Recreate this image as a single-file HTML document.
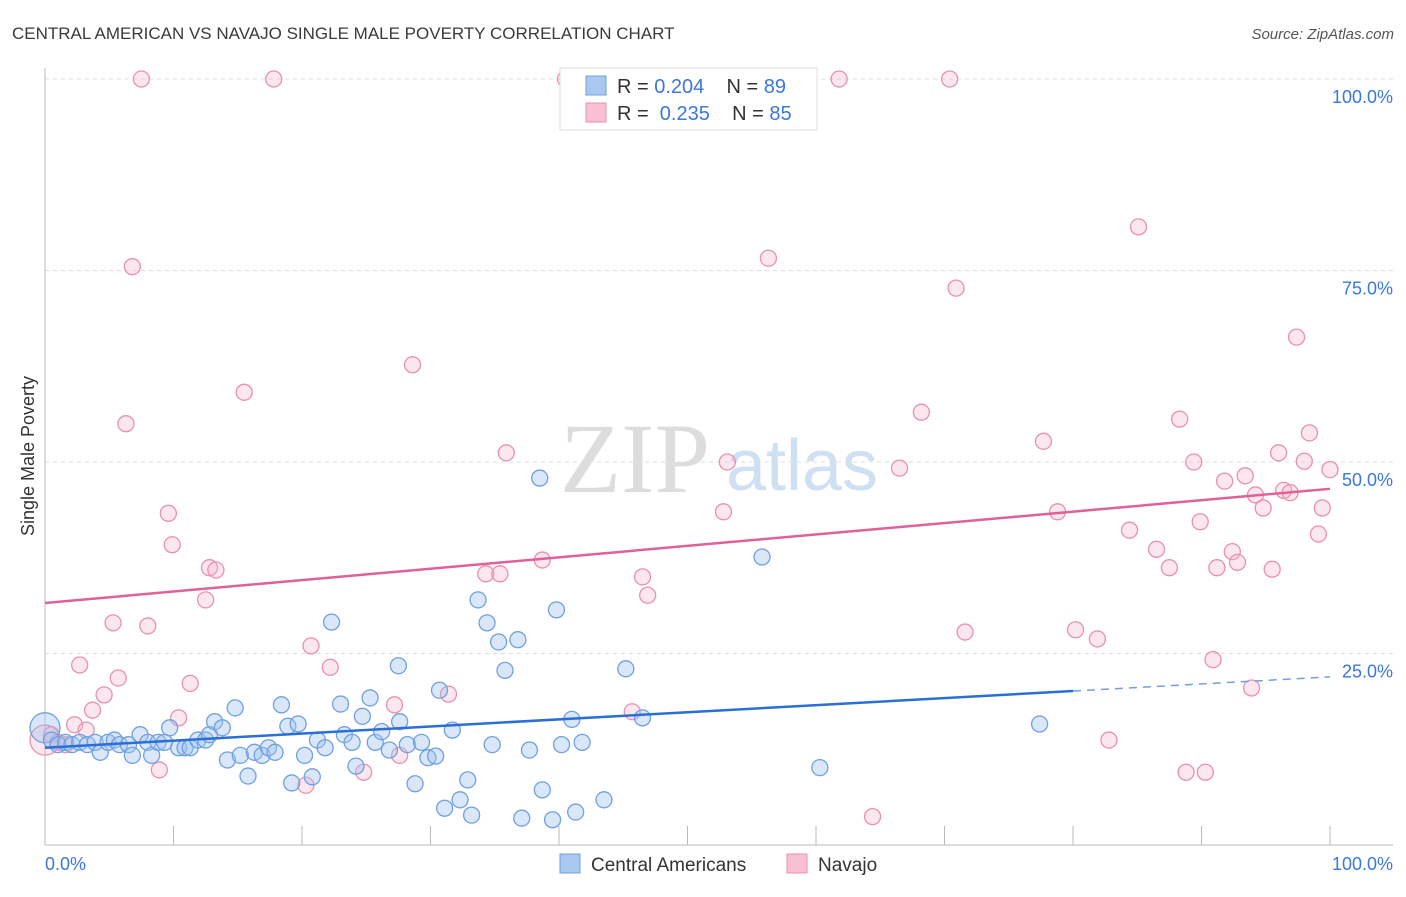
<!DOCTYPE html>
<html><head><meta charset="utf-8"><style>
body{margin:0;background:#fff;font-family:"Liberation Sans",sans-serif;}
svg text{font-family:"Liberation Sans",sans-serif;}
</style></head><body>
<svg id="chart" width="1406" height="892">
<text x="12" y="39" font-size="17" fill="#3a3a3a">CENTRAL AMERICAN VS NAVAJO SINGLE MALE POVERTY CORRELATION CHART</text>
<text x="1394" y="39" font-size="15" fill="#555" text-anchor="end" font-style="italic">Source: ZipAtlas.com</text>
<text x="635" y="492" font-size="100" fill="#ddd" text-anchor="middle" style="font-family:'Liberation Serif',serif">ZIP</text>
<text x="802" y="490" font-size="72" fill="#cfe0f3" text-anchor="middle">atlas</text>
<text x="34" y="456" font-size="18" fill="#333" text-anchor="middle" transform="rotate(-90 34 456)">Single Male Poverty</text>
<g id="grid"></g><g id="pts"></g><g id="lines"></g>
<g>
<rect x="560" y="68" width="257" height="62" fill="#fff" stroke="#ddd"/>
<rect x="586" y="76" width="20" height="19" fill="#a8c8f0" stroke="#6fa0e0"/>
<rect x="586" y="103" width="20" height="19" fill="#f8c0d2" stroke="#e890ae"/>
<text x="617" y="93" font-size="20" fill="#333">R = <tspan fill="#3b78d8">0.204</tspan>&#160;&#160;&#160;&#160;N = <tspan fill="#3b78d8">89</tspan></text>
<text x="617" y="120" font-size="20" fill="#333">R = &#160;<tspan fill="#3b78d8">0.235</tspan>&#160;&#160;&#160;&#160;N = <tspan fill="#3b78d8">85</tspan></text>
</g>
<g>
<rect x="560" y="854" width="20" height="19" fill="#a8c8f0" stroke="#6fa0e0"/>
<text x="591" y="871" font-size="19" fill="#333">Central Americans</text>
<rect x="787" y="854" width="20" height="19" fill="#f8c0d2" stroke="#e890ae"/>
<text x="818" y="871" font-size="19" fill="#333">Navajo</text>
</g>
<text x="45" y="870" font-size="18" fill="#3b78d8">0.0%</text>
<text x="1393" y="870" font-size="18" fill="#3b78d8" text-anchor="end">100.0%</text>
</svg>
<script>
const yTicks=[25,50,75,100];
const yTickLabels=["25.0%","50.0%","75.0%","100.0%"];
const xTicks=[0,10,20,30,40,50,60,70,80,90,100];
const blueX=[0,0.5,1.0,1.6,2.1,2.7,3.3,3.9,4.3,4.9,5.4,5.8,6.5,6.8,7.4,8.0,8.3,8.8,9.3,9.7,10.4,10.9,11.3,11.9,12.5,12.8,13.2,13.8,14.2,14.8,15.2,15.8,16.3,16.9,17.4,17.9,18.4,18.9,19.2,19.7,20.2,20.8,21.2,21.8,22.3,23.0,23.3,23.9,24.2,24.7,25.3,25.7,26.2,26.8,27.5,27.6,28.2,28.8,29.3,29.8,30.4,30.7,31.1,31.7,32.3,32.9,33.2,33.7,34.4,34.8,35.3,35.8,36.8,37.1,37.7,38.5,38.7,39.5,39.8,40.2,41.0,41.3,41.8,43.5,45.2,46.5,55.8,60.3,77.4];
const blueY=[15.3,13.7,13.1,13.4,13.1,13.4,13.1,13.4,12.1,13.4,13.7,13.1,13.1,11.7,14.4,13.4,11.7,13.4,13.4,15.3,12.7,12.7,12.7,13.7,13.7,14.4,16.1,15.3,11.1,17.9,11.7,9.0,12.1,11.7,12.7,12.1,18.3,15.5,8.1,15.8,11.7,8.9,13.7,12.7,29.1,18.4,14.4,13.4,10.3,16.8,19.2,13.4,14.8,12.4,23.4,16.1,13.1,8.0,13.4,11.4,11.6,20.2,4.8,15.0,5.9,8.5,3.9,32.0,29.0,13.1,26.5,22.8,26.8,3.5,12.4,47.9,7.2,3.3,30.7,13.1,16.4,4.3,13.4,5.9,23.0,16.6,37.6,10.1,15.8];
const pinkX=[0,0.5,1.0,1.6,2.3,2.7,3.2,3.7,4.6,5.3,5.7,6.3,6.8,7.5,8.0,8.9,9.6,9.9,10.4,11.3,12.5,12.8,13.3,15.5,17.8,20.3,20.7,22.2,24.8,27.2,27.6,28.6,31.4,34.3,35.4,35.9,38.7,40.5,45.7,46.5,46.9,53.1,52.8,56.3,61.8,64.4,66.5,68.2,70.4,70.9,71.6,77.7,78.8,80.2,81.9,82.8,84.4,85.1,86.5,87.5,88.3,88.8,89.4,89.9,90.3,90.9,91.2,92.4,92.8,93.4,91.8,93.9,94.2,94.8,95.5,96.0,96.4,96.9,97.4,98.0,98.4,99.4,99.1,100];
const pinkY=[13.7,14.4,13.4,13.1,15.7,23.5,15.0,17.6,19.6,29.0,21.8,55.0,75.5,100,28.6,9.8,43.3,39.2,16.6,21.1,32.0,36.2,35.9,59.1,100,7.8,26.0,23.2,9.5,18.3,11.7,62.7,19.7,35.4,35.4,51.2,37.2,100,17.4,35.0,32.6,50.0,43.5,76.6,100,3.7,49.2,56.5,100,72.7,27.8,52.7,43.5,28.1,26.9,13.7,41.1,80.7,38.6,36.2,55.6,9.5,50.0,42.2,9.5,24.2,36.2,38.3,36.9,48.2,47.5,20.5,45.7,44.0,36.0,51.2,46.3,46.0,66.3,50.1,53.8,44.0,40.6,49.0];
const blueFit=[12.7,0.0925];
const pinkFit=[31.6,0.149];
const NS="http://www.w3.org/2000/svg";
const sx=v=>45+v*12.85, sy=v=>845-v*7.66;
function mk(tag,attrs,parent){const e=document.createElementNS(NS,tag);for(const k in attrs)e.setAttribute(k,attrs[k]);document.getElementById(parent).appendChild(e);return e;}
yTicks.forEach((t,i)=>{
 const l=mk('line',{x1:45,x2:1393,y1:sy(t),y2:sy(t),stroke:'#ddd','stroke-dasharray':'4,4'},'grid');
 
 
 const tx=mk('text',{x:1393,y:sy(t)+24,'font-size':18,fill:'#3b78d8','text-anchor':'end'},'grid');
 tx.textContent=yTickLabels[i];
 
 
});
const ax=mk('line',{x1:45,x2:45,y1:68,y2:845,stroke:'#bbb'},'grid');


const bx=mk('line',{x1:45,x2:1393,y1:845,y2:845,stroke:'#bbb'},'grid');


xTicks.forEach(t=>{
 const l=mk('line',{x1:sx(t),x2:sx(t),y1:826,y2:845,stroke:'#bbb'},'grid');
 
 
});
function pts(X,Y,fill,stroke,name){X.forEach((x,i)=>{
 const c=mk('circle',{cx:sx(x),cy:sy(Y[i]),r:i==0?15:8,fill:fill,stroke:stroke,'stroke-width':1.3},'pts');
 
 
});}
pts(pinkX,pinkY,'rgba(245,175,198,0.3)','#e890ae','navajo-point');
pts(blueX,blueY,'rgba(160,196,240,0.4)','#6fa0e0','central-american-point');
const f=(fit,x)=>fit[0]+fit[1]*x;
const bl=mk('line',{x1:sx(0),y1:sy(f(blueFit,0)),x2:sx(80),y2:sy(f(blueFit,80)),stroke:'#2a6fd6','stroke-width':2.5},'lines');


const bd=mk('line',{x1:sx(80),y1:sy(f(blueFit,80)),x2:sx(100),y2:sy(f(blueFit,100)),stroke:'#6fa0e0','stroke-width':1.5,'stroke-dasharray':'8,6'},'lines');


const pl=mk('line',{x1:sx(0),y1:sy(f(pinkFit,0)),x2:sx(100),y2:sy(f(pinkFit,100)),stroke:'#e0609a','stroke-width':2.5},'lines');


</script>
</body></html>
